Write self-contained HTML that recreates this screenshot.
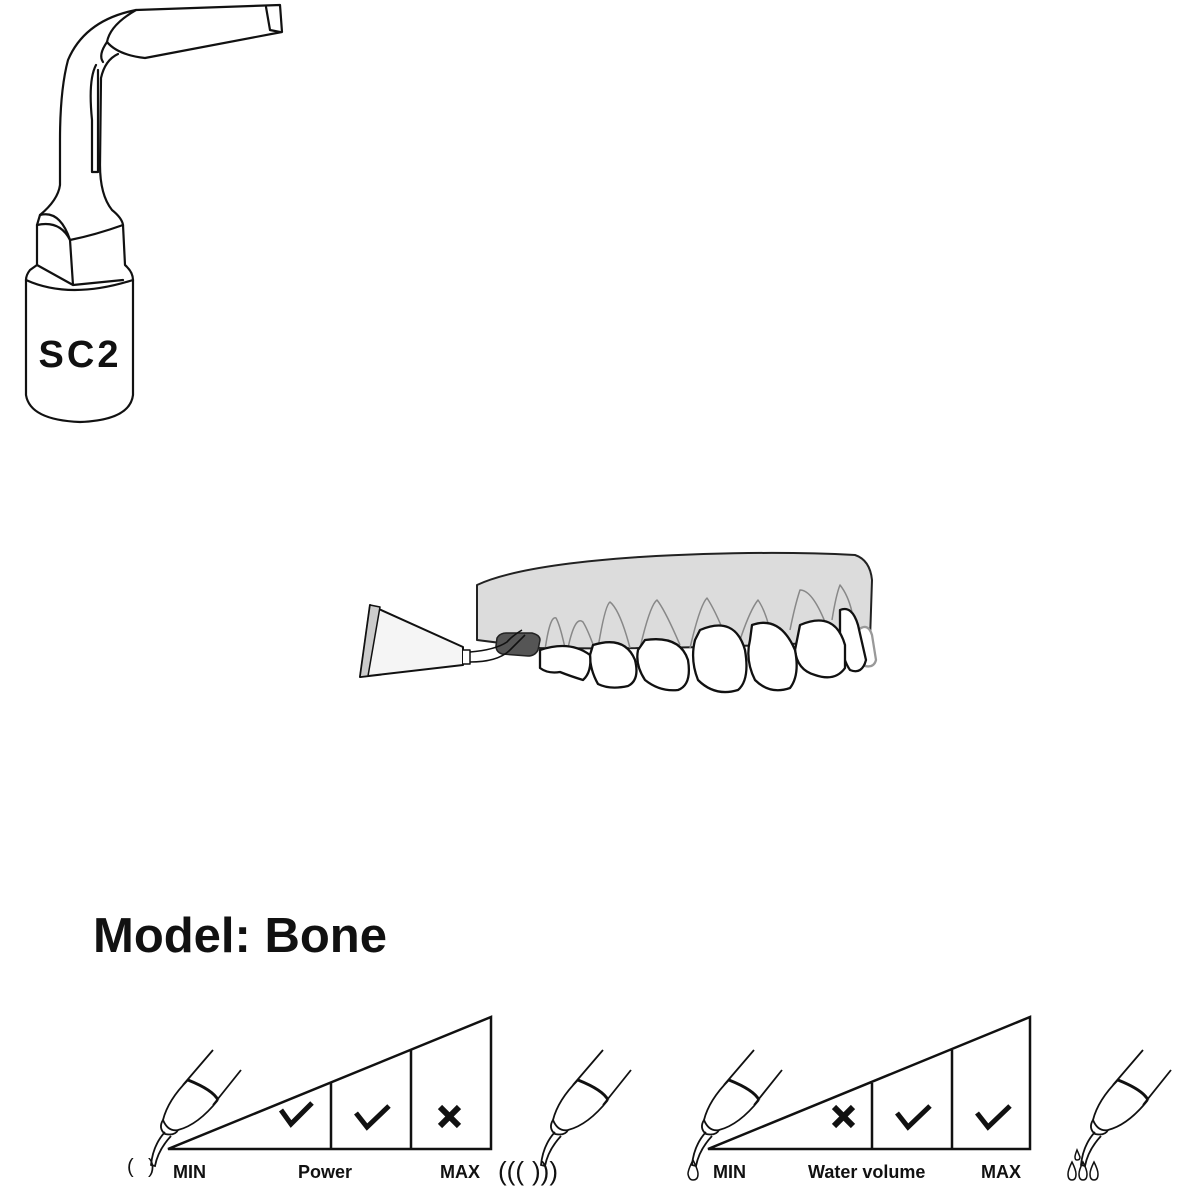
<!DOCTYPE html>
<html><head><meta charset="utf-8"><style>
html,body{margin:0;padding:0;background:#fff;}
svg{display:block}
</style></head><body>
<svg width="1200" height="1200" viewBox="0 0 1200 1200" xmlns="http://www.w3.org/2000/svg">
<g fill="none" stroke="#111" stroke-width="2.2" stroke-linejoin="round" stroke-linecap="round">
<!-- SC2 tip -->
<path d="M136,10 L280,5 L282,32 L145,58 Q118,55 107,42 Q110,25 136,10 Z" fill="#fff"/>
<path d="M266,7 L270,30 L280,32"/>
<path d="M136,10 Q85,20 68,60 Q60,90 60,140 L60,185 Q58,200 40,215 L37,225 L37,265 L30,270 Q26,275 26,280 L26,395 Q30,420 80,422 Q130,420 133,395 L133,280 Q133,272 125,265 L123,225 Q122,218 112,210 Q100,195 100,165 L101,78 Q105,60 118,54"/>
<path d="M107,42 Q98,55 103,62"/>
<path d="M96,65 Q88,80 92,120 L92,172 L98,172 L98,70"/>
<path d="M37,225 Q60,220 70,240 L73,285 M70,240 Q95,235 123,225 M37,265 L73,285 L123,280 M26,280 Q70,300 133,280"/>
<path d="M40,215 Q60,210 70,240"/>
</g>
<text x="80" y="367" text-anchor="middle" font-family="Liberation Sans, sans-serif" font-weight="bold" font-size="38" fill="#111" letter-spacing="3">SC2</text>

<!-- teeth illustration -->
<g stroke-linejoin="round">
<path d="M477,640 L477,585 Q520,565 640,557 Q760,550 855,555 Q870,560 872,580 L870,640 Q700,650 540,648 Z" fill="#dcdcdc" stroke="#222" stroke-width="2"/>
<g fill="none" stroke="#888" stroke-width="1.5">
<path d="M545,650 Q550,615 556,618 Q560,625 565,648"/>
<path d="M568,648 Q575,615 583,622 Q588,630 595,650"/>
<path d="M598,648 Q605,605 610,602 Q620,610 630,648"/>
<path d="M640,648 Q650,605 657,600 Q665,610 680,645"/>
<path d="M690,648 Q700,605 707,598 Q715,610 725,635"/>
<path d="M740,640 Q750,610 758,600 Q765,610 770,630"/>
<path d="M790,630 Q795,605 800,590 Q812,590 825,622"/>
<path d="M832,620 Q836,595 840,585 Q848,595 852,612"/>
</g>
<g fill="#fff" stroke="#111" stroke-width="2.3">
<path d="M858,630 Q868,622 872,635 L876,660 Q874,668 865,666 Z" stroke="#999"/>
<path d="M840,610 Q852,605 858,625 L866,660 Q862,675 850,670 Q843,660 840,640 Z"/>
<path d="M800,625 Q835,610 845,645 L845,668 Q835,682 815,675 Q797,670 795,650 Z"/>
<path d="M752,625 Q780,615 795,650 Q800,675 790,688 Q770,695 755,680 Q745,660 750,640 Z"/>
<path d="M700,630 Q735,615 745,650 Q750,680 738,690 Q715,697 698,680 Q690,660 695,640 Z"/>
<path d="M645,640 Q680,635 688,660 Q692,685 678,690 Q660,692 645,680 Q635,665 638,650 Z"/>
<path d="M593,645 Q625,635 635,660 Q640,680 628,686 Q610,690 598,684 Q590,670 590,655 Z"/>
<path d="M540,650 Q570,640 590,655 Q592,672 583,680 Q570,676 560,672 Q548,674 540,668 Z"/>
</g>
<path d="M497,638 Q500,633 506,633 L532,633 Q540,635 540,640 L538,650 Q535,656 528,656 L502,654 Q496,652 496,646 Z" fill="#555" stroke="#222" stroke-width="1.5"/>
<path d="M370,605 L463,647 L463,665 L360,677 Z" fill="#f5f5f5" stroke="#111" stroke-width="2"/>
<path d="M370,605 L380,607 L368,676 L360,677 Z" fill="#ccc" stroke="#111" stroke-width="1.5"/>
<path d="M463,650 L470,650 L470,664 L463,664" fill="#fff" stroke="#111" stroke-width="1.5"/>
<path d="M470,652 Q495,650 507,642 Q512,636 522,630 M470,662 Q498,662 510,650 L525,635" fill="none" stroke="#111" stroke-width="1.6"/>
</g>

<text x="93" y="952" font-family="Liberation Sans, sans-serif" font-weight="bold" font-size="49" fill="#111">Model: Bone</text>

<!-- scales -->
<g fill="none" stroke="#111" stroke-width="2.5" stroke-linejoin="miter">
<path d="M168,1149 L491,1017 L491,1149 Z M331,1083 L331,1149 M411,1050 L411,1149"/>
<path d="M708,1149 L1030,1017 L1030,1149 Z M872,1083 L872,1149 M952,1050 L952,1149"/>
</g>
<g fill="none" stroke="#111" stroke-width="5" stroke-linecap="butt">
<path d="M281,1110 L291,1124 L312,1103"/>
<path d="M356,1113 L367,1127 L389,1106"/>
<path d="M897,1113 L908,1127 L930,1106"/>
<path d="M977,1113 L988,1127 L1010,1106"/>
<path d="M440,1107 L459,1126 M459,1107 L440,1126" stroke-width="6"/>
<path d="M834,1107 L853,1126 M853,1107 L834,1126" stroke-width="6"/>
</g>
<g font-family="Liberation Sans, sans-serif" font-weight="bold" font-size="18" fill="#111">
<text x="173" y="1178">MIN</text>
<text x="298" y="1178">Power</text>
<text x="440" y="1178">MAX</text>
<text x="713" y="1178">MIN</text>
<text x="808" y="1178">Water volume</text>
<text x="981" y="1178">MAX</text>
</g>

<!-- handpiece icons -->
<defs>
<g id="hp" fill="none" stroke="#111" stroke-width="1.8">
<path d="M0,0 L-30,35 M28,20 L0,55"/>
<path d="M-25,30 Q-45,50 -50,70 Q-45,82 -35,80 Q-15,75 5,50"/>
<path d="M-25,30 Q0,40 5,50" stroke-width="3"/>
<path d="M-50,70 Q-55,78 -48,84 Q-38,86 -35,80"/>
<path d="M-48,82 Q-60,95 -62,115 L-58,116 Q-55,100 -42,86"/>
</g>
</defs>
<use href="#hp" x="213" y="1050"/>
<use href="#hp" x="603" y="1050"/>
<use href="#hp" x="754" y="1050"/>
<use href="#hp" x="1143" y="1050"/>
<g font-family="Liberation Sans, sans-serif" font-size="20" fill="#111">
<text x="127" y="1173">(</text>
<text x="148" y="1173">)</text>
<text x="498" y="1180" font-size="26">(((</text>
<text x="532" y="1180" font-size="26">)))</text>
</g>
<g fill="none" stroke="#111" stroke-width="1.5">
<path d="M693,1160 Q688,1170 688,1174 Q689,1180 693,1180 Q698,1180 698,1174 Q698,1170 693,1160 Z"/>
<path d="M1072,1162 Q1068,1170 1068,1174 Q1068,1180 1072,1180 Q1076,1180 1076,1174 Q1076,1170 1072,1162 Z"/>
<path d="M1083,1162 Q1079,1170 1079,1174 Q1079,1180 1083,1180 Q1087,1180 1087,1174 Q1087,1170 1083,1162 Z"/>
<path d="M1094,1162 Q1090,1170 1090,1174 Q1090,1180 1094,1180 Q1098,1180 1098,1174 Q1098,1170 1094,1162 Z"/>
<path d="M1077,1150 Q1075,1155 1075,1157 Q1075,1160 1077,1160 Q1080,1160 1080,1157 Z"/>
</g>
</svg>
</body></html>
